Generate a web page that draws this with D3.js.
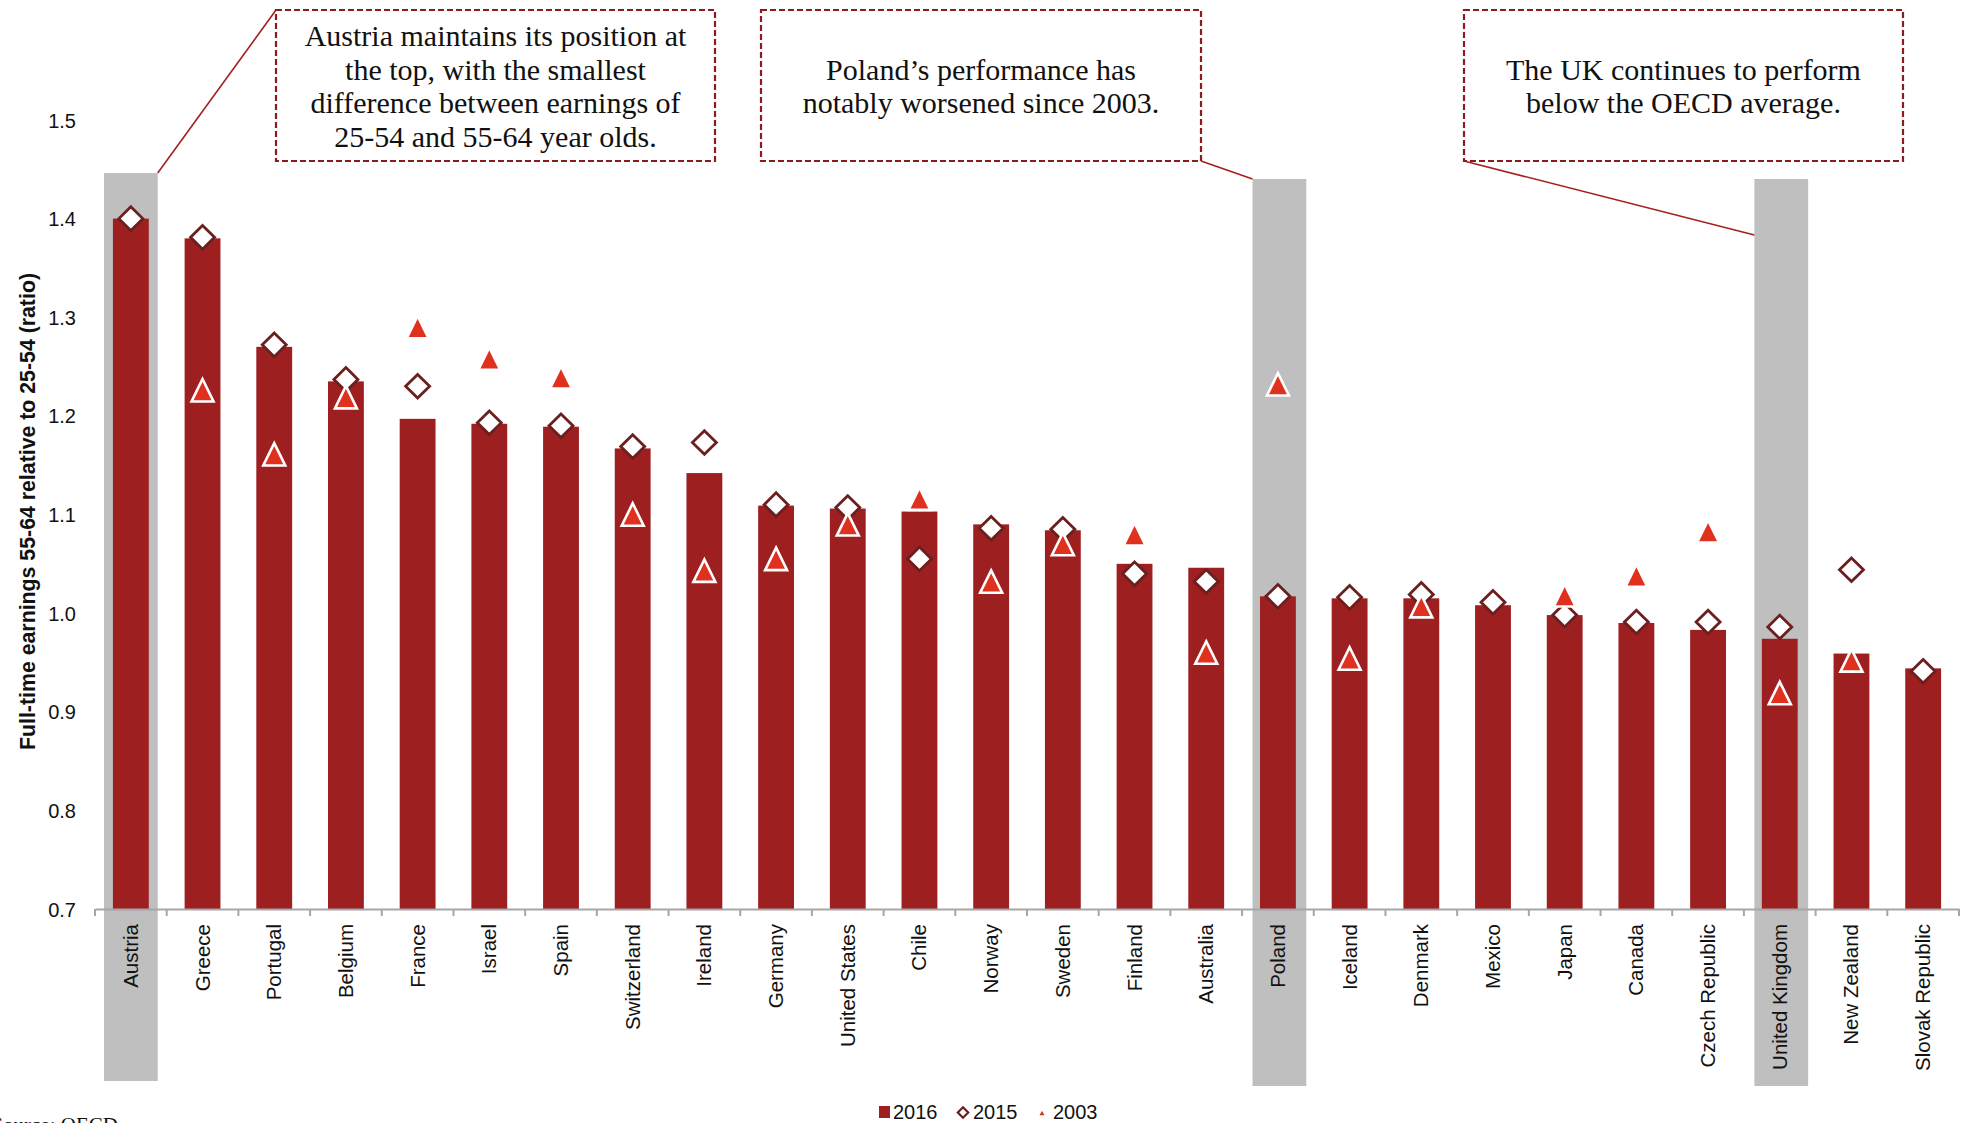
<!DOCTYPE html>
<html>
<head>
<meta charset="utf-8">
<script src="https://cdn.jsdelivr.net/npm/d3@7"></script>
<style>
  html, body { margin: 0; padding: 0; background: #ffffff; overflow: hidden; }
  svg { display: block; }
</style>
</head>
<body>
<svg id="chart" width="1966" height="1123"></svg>
<script>
// ---------------- DATA ----------------
const countries = ["Austria","Greece","Portugal","Belgium","France","Israel","Spain","Switzerland","Ireland","Germany","United States","Chile","Norway","Sweden","Finland","Australia","Poland","Iceland","Denmark","Mexico","Japan","Canada","Czech Republic","United Kingdom","New Zealand","Slovak Republic"];
const val2016 = [1.400,1.380,1.270,1.235,1.197,1.192,1.189,1.167,1.142,1.109,1.106,1.103,1.090,1.084,1.050,1.046,1.017,1.015,1.015,1.008,0.998,0.990,0.983,0.974,0.959,0.944];
const val2015 = [1.400,1.381,1.272,1.237,1.230,1.193,1.190,1.169,1.173,1.110,1.107,1.055,1.086,1.085,1.040,1.032,1.017,1.016,1.019,1.011,0.998,0.991,0.991,0.986,1.044,0.941];
const val2003 = [null,1.226,1.161,1.219,1.290,1.258,1.239,1.100,1.043,1.055,1.090,1.116,1.032,1.070,1.080,0.960,1.232,0.954,1.007,null,1.018,1.038,1.083,0.919,0.952,null];
const yTicks = [0.7,0.8,0.9,1.0,1.1,1.2,1.3,1.4,1.5];
const highlighted = ["Austria","Poland","United Kingdom"];
const seriesNames = ["2016","2015","2003"];
const yTitle = "Full-time earnings 55-64 relative to 25-54 (ratio)";
const noteAustria = ["Austria maintains its position at","the top, with the smallest","difference between earnings of","25-54 and 55-64 year olds."];
const notePoland = ["Poland\u2019s performance has","notably worsened since 2003."];
const noteUK = ["The UK continues to perform","below the OECD average."];
const sourceText = "Source: OECD";

// ---------------- STYLE ----------------
const C = {
  bar: "#9e1f20",
  diamondStroke: "#6b1f1f",
  tri: "#e0301e",
  gray: "#bfbfbf",
  axis: "#a6a6a6",
  note: "#8e1b1b",
  leader: "#a31f20",
  text: "#111111"
};

const svg = d3.select("#chart");
const x = d3.scaleBand().domain(countries).range([95, 1959]).padding(0);
const y = d3.scaleLinear().domain([0.7, 1.5]).range([909, 120]);
const bw = x.bandwidth();
const cx = c => x(c) + bw / 2;

// ---------------- HIGHLIGHT BANDS ----------------
const bandTop = {"Austria": 173, "Poland": 179, "United Kingdom": 179};
const bandBot = {"Austria": 1081, "Poland": 1086, "United Kingdom": 1086};
const hlW = bw * 0.75;
svg.append("g").selectAll("rect").data(highlighted).join("rect")
  .attr("x", d => cx(d) - hlW / 2 + (d === "Austria" ? 0 : 1.5))
  .attr("y", d => bandTop[d])
  .attr("width", hlW)
  .attr("height", d => bandBot[d] - bandTop[d])
  .attr("fill", C.gray);

// ---------------- BARS ----------------
const barW = bw * 0.5;
svg.append("g").selectAll("rect").data(countries).join("rect")
  .attr("x", d => cx(d) - barW / 2)
  .attr("y", (d, i) => y(val2016[i]))
  .attr("width", barW)
  .attr("height", (d, i) => y(0.7) - y(val2016[i]))
  .attr("fill", C.bar);

// ---------------- AXES ----------------
const yAxis = d3.axisLeft(y).tickValues(yTicks).tickFormat(d3.format(".1f")).tickSize(0).tickPadding(0);
const gy = svg.append("g").attr("transform", "translate(76,0)").call(yAxis);
gy.select(".domain").remove();
gy.selectAll("text").attr("font-family", "'Liberation Sans', Arial, sans-serif")
  .attr("font-size", 20).attr("fill", C.text).attr("dy", "0.35em");

const xAxis = d3.axisBottom(x).tickSize(0).tickSizeOuter(0);
const gx = svg.append("g").attr("transform", `translate(0,${y(0.7)})`).call(xAxis);
gx.select(".domain").attr("stroke", C.axis).attr("stroke-width", 2);
gx.selectAll(".tick text")
  .attr("font-family", "'Liberation Sans', Arial, sans-serif")
  .attr("font-size", 20.5)
  .attr("fill", C.text)
  .attr("text-anchor", "end")
  .attr("dy", null)
  .attr("y", 0)
  .attr("transform", "translate(7,15) rotate(-90)");
// boundary ticks
const bounds = countries.map(c => x(c)).concat([x.range()[1]]);
svg.append("g").selectAll("line").data(bounds).join("line")
  .attr("x1", d => d).attr("x2", d => d)
  .attr("y1", y(0.7)).attr("y2", y(0.7) + 7)
  .attr("stroke", C.axis).attr("stroke-width", 2);

// y title
svg.append("text")
  .attr("transform", `translate(35,${(273 + 750) / 2}) rotate(-90)`)
  .attr("text-anchor", "middle")
  .attr("font-family", "'Liberation Sans', Arial, sans-serif")
  .attr("font-weight", "bold")
  .attr("font-size", 21.3)
  .attr("fill", C.text)
  .text(yTitle);

// ---------------- MARKERS ----------------
const diamond = (px, py, w, h) => `M${px},${py - h}L${px + w},${py}L${px},${py + h}L${px - w},${py}Z`;
const triangle = (px, py, w, h) => `M${px},${py - h}L${px + w},${py + h}L${px - w},${py + h}Z`;

svg.append("g").selectAll("path").data(countries).join("path")
  .attr("d", (d, i) => diamond(cx(d), y(val2015[i]), 12, 11.8))
  .attr("fill", "#ffffff")
  .attr("stroke", C.diamondStroke)
  .attr("stroke-width", 2.8)
  .attr("stroke-linejoin", "miter");

const triData = countries.map((c, i) => ({c, v: val2003[i]})).filter(d => d.v != null);
svg.append("g").selectAll("path").data(triData).join("path")
  .attr("d", d => triangle(cx(d.c), y(d.v), 11, 11.2))
  .attr("fill", C.tri)
  .attr("stroke", "#ffffff")
  .attr("stroke-width", 2.6)
  .attr("stroke-linejoin", "miter");

// ---------------- ANNOTATIONS ----------------
const boxes = [
  {lines: noteAustria, x0: 276, x1: 715, y0: 10, y1: 161, centers: [36, 70, 103, 137]},
  {lines: notePoland,  x0: 761, x1: 1201, y0: 10, y1: 161, centers: [70, 103]},
  {lines: noteUK,      x0: 1464, x1: 1903, y0: 10, y1: 161, centers: [70, 103]}
];
// leader lines (box corner -> highlight band corner)
const leaders = [
  [[276, 10], [cx("Austria") + hlW / 2, bandTop["Austria"]]],
  [[1201, 161], [cx("Poland") - hlW / 2 + 1.5, bandTop["Poland"]]],
  [[1464, 161], [cx("United Kingdom") - hlW / 2 + 1.5, 235]]
];
svg.append("g").selectAll("line").data(leaders).join("line")
  .attr("x1", d => d[0][0]).attr("y1", d => d[0][1])
  .attr("x2", d => d[1][0]).attr("y2", d => d[1][1])
  .attr("stroke", C.leader).attr("stroke-width", 1.6);

const gb = svg.append("g").selectAll("g").data(boxes).join("g");
gb.append("rect")
  .attr("x", d => d.x0).attr("y", d => d.y0)
  .attr("width", d => d.x1 - d.x0).attr("height", d => d.y1 - d.y0)
  .attr("fill", "#ffffff")
  .attr("stroke", C.note).attr("stroke-width", 2.2)
  .attr("stroke-dasharray", "6,3");
gb.each(function(d) {
  const g = d3.select(this);
  d.lines.forEach((ln, k) => {
    g.append("text")
      .attr("x", (d.x0 + d.x1) / 2)
      .attr("y", d.centers[k])
      .attr("dy", "0.33em")
      .attr("text-anchor", "middle")
      .attr("font-family", "'Liberation Serif', 'Times New Roman', serif")
      .attr("font-size", 30)
      .attr("fill", C.text)
      .text(ln);
  });
});

// ---------------- LEGEND ----------------
const lg = svg.append("g");
const lgFont = "'Liberation Sans', Arial, sans-serif";
lg.append("rect").attr("x", 879).attr("y", 1106).attr("width", 11).attr("height", 12).attr("fill", C.bar);
lg.append("text").attr("x", 893).attr("y", 1119).attr("font-family", lgFont).attr("font-size", 20).attr("fill", C.text).text(seriesNames[0]);
lg.append("path").attr("d", diamond(963, 1112.5, 5.2, 5.2)).attr("fill", "#fff").attr("stroke", C.diamondStroke).attr("stroke-width", 2.2);
lg.append("text").attr("x", 973).attr("y", 1119).attr("font-family", lgFont).attr("font-size", 20).attr("fill", C.text).text(seriesNames[1]);
lg.append("path").attr("d", triangle(1042, 1113, 2.5, 2.3)).attr("fill", C.tri);
lg.append("text").attr("x", 1053).attr("y", 1119).attr("font-family", lgFont).attr("font-size", 20).attr("fill", C.text).text(seriesNames[2]);

// source (mostly cut off at bottom, as in the reference)
svg.append("text").attr("x", 118).attr("y", 1132).attr("text-anchor", "end")
  .attr("font-family", "'Liberation Serif', 'Times New Roman', serif")
  .attr("font-size", 21).attr("fill", C.text).text(sourceText);
</script>
</body>
</html>
